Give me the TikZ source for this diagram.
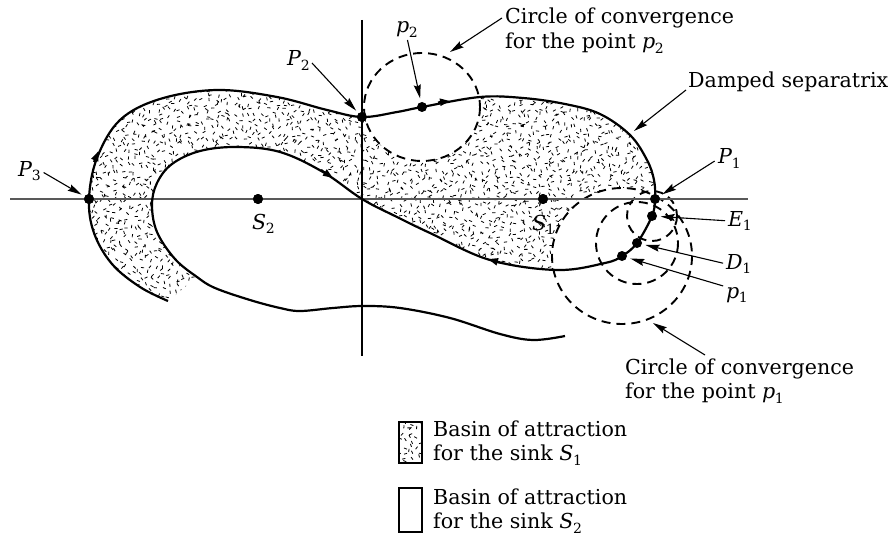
\documentclass[tikz,border=0pt]{standalone}
\usepackage{fontspec}
\setmainfont{DejaVu Serif}
\usetikzlibrary{arrows.meta}
\newcommand\lbl[2]{\textit{#1}\kern-0.02em\raisebox{-0.45ex}{\fontsize{14}{14}\selectfont #2}}
\begin{document}
\begin{tikzpicture}[x=1pt,y=-1pt,
  every node/.style={inner sep=0pt, font=\fontsize{20.6}{24.5}\selectfont},
  dot/.style={circle, fill=black, minimum size=10pt},
  sepline/.style={line width=2.2pt, line join=round},
  conv/.style={line width=1.9pt, dash pattern=on 9pt off 6pt},
  pointer/.style={line width=1.1pt, -{Stealth[length=14pt,width=7pt,inset=2pt]}, shorten >=3.5pt},
  flow/.style={line width=2.2pt, -{Triangle[length=10pt,width=7pt]}},
  stip/.style={line width=0.8pt},
  axisline/.style={line width=1.5pt, black!65},
  legbox/.style={draw, line width=1.4pt, minimum width=23pt},
  ]
\useasboundingbox (0,0) rectangle (893,540);

% points
\node[dot] (P3) at (89,199) {};
\node[dot] (S2) at (258,199) {};
\node[dot] (S1) at (543,199) {};
\node[dot] (P1) at (655,199) {};
\node[dot] (E1) at (652,216) {};
\node[dot] (D1) at (637,243) {};
\node[dot] (p1) at (622,256) {};
\node[dot] (P2) at (362,117) {};
\node[dot] (p2) at (422,107) {};

% stipple (basin of S1)
\begin{scope}
\clip plot[smooth, tension=0.6] coordinates {(168,301) (140,287) (112,264) (94,233) (89,199) (97,158) (120,120) (160,99) (217,90) (277,97) (327,110) (362,117) (397,112) (422,107) (480,97) (523,98) (565,104) (600,114) (630,135) (647,160) (654,180) (655,199) (652,216) (637,243) (622,256) (605,263) (557,270) (490,260) (430,233) (397,217) (362,199) (323,172) (280,152) (237,147) (200,151) (172,164) (157,183) (152,205) (157,232) (175,259) (197,277)} -- cycle;
\pgfmathsetseed{4242}
\path[draw, stip] foreach \gx in {86,92,...,662} {foreach \gy in {86,92,...,306} {({\gx+6*rnd-3},{\gy+6*rnd-3}) -- ++({360*rnd}:3.2)}};
\end{scope}

% circles of convergence
\fill[white] (p2.center) ellipse [x radius=58, y radius=54];
\fill[white] (p1.center) ellipse [x radius=70, y radius=68];
\fill[white] (D1.center) circle [radius=41];
\fill[white] (E1.center) circle [radius=25];
\draw[conv] (p2.center) ellipse [x radius=58, y radius=54];
\draw[conv] (p1.center) ellipse [x radius=70, y radius=68];
\draw[conv] (D1.center) circle [radius=41];
\draw[conv] (E1.center) circle [radius=25];

% axes
\draw[axisline] (10,199) -- (748,199);
\draw[line width=1.2pt] (362,20) -- (362,356);

% separatrix
\draw[sepline] plot[smooth, tension=0.6] coordinates {(168,301) (140,287) (112,264) (94,233) (89,199) (97,158) (120,120) (160,99) (217,90) (277,97) (327,110) (362,117) (397,112) (422,107) (480,97) (523,98) (565,104) (600,114) (630,135) (647,160) (654,180) (655,199) (652,216) (637,243) (622,256) (605,263) (557,270) (490,260) (430,233) (397,217) (362,199) (323,172) (280,152) (237,147) (200,151) (172,164) (157,183) (152,205) (157,232) (175,259) (197,277) (215,288) (250,300) (280,308) (300,311) (333,308) (363,306) (400,308) (450,318) (500,334) (533,340) (565,336)};

% flow arrows
\draw[flow] (94,162) -- (98.5,151);
\draw[flow] (438,102.5) -- (450,101);
\draw[flow] (500,262.5) -- (488,259);
\draw[flow] (321,170) -- (333,178);

% dots on top
\foreach \n in {P3,S2,S1,P1,E1,D1,p1,P2,p2} {\fill (\n.center) circle [radius=5];}

% labels
\node[anchor=base west] (lP3) at (18,176) {\lbl{P}{3}};
\node[anchor=base west] (lS2) at (252,229) {\lbl{S}{2}};
\node[anchor=base west] (lS1) at (532,230) {\lbl{S}{1}};
\node[anchor=base west] (lP2) at (287,66) {\lbl{P}{2}};
\node[anchor=base west] (lp2) at (396,33) {\lbl{p}{2}};
\node[anchor=base west] (lP1) at (718,164) {\lbl{P}{1}};
\node[anchor=base west] (lE1) at (728,226) {\lbl{E}{1}};
\node[anchor=base west] (lD1) at (726,269) {\lbl{D}{1}};
\node[anchor=base west] (lp1) at (726,298) {\lbl{p}{1}};
\node[anchor=base west] (C2) at (505,24) {\begin{tabular}[t]{@{}l@{}}Circle of convergence\\for the point \lbl{p}{2}\end{tabular}};
\node[anchor=base west] (DS) at (688,88) {Damped separatrix};
\node[anchor=base west] (C1) at (625,374) {\begin{tabular}[t]{@{}l@{}}Circle of convergence\\for the point \lbl{p}{1}\end{tabular}};

\coordinate (dsTip) at (634,131);
\coordinate (c2Tip) at (450,52);
\coordinate (c1Tip) at (653,323);

% pointers
\draw[pointer, shorten <=3pt] (lP3.east) -- (P3);
\draw[pointer, shorten <=3pt] (lP2.east) -- (P2);
\draw[pointer, shorten <=2pt] (lp2.south) -- (p2);
\draw[pointer, shorten <=4pt] (lP1.west) -- (P1);
\draw[pointer, shorten <=3pt] (lE1.west) -- (E1);
\draw[pointer, shorten <=3pt] (lD1.west) -- (D1);
\draw[pointer, shorten <=3pt] (lp1.north west) -- (p1);
\draw[pointer, shorten >=0pt] ([shift={(-2,2)}]DS.base west) -- (dsTip);
\draw[pointer, shorten >=0pt] ([shift={(-3,-6)}]C2.base west) -- (c2Tip);
\draw[pointer, shorten >=0pt] ([shift={(80,-19)}]C1.base west) -- (c1Tip);

% legend
\node[legbox, minimum height=41pt] (box1) at (410.5,442.5) {};
\begin{scope}
\clip (399,422) rectangle (422,463);
\path[draw, stip] foreach \gx in {401,407,...,422} {foreach \gy in {424,430,...,462} {({\gx+6*rnd-3},{\gy+6*rnd-3}) -- ++({360*rnd}:3.2)}};
\end{scope}
\node[legbox, minimum height=41pt] at (box1) {};
\node[legbox, minimum height=44pt] (box2) at (410.5,510) {};
\node[anchor=base west] (leg1) at (433,436) {\begin{tabular}[t]{@{}l@{}}Basin of attraction\\for the sink \lbl{S}{1}\end{tabular}};
\node[anchor=base west] (leg2) at (433,504) {\begin{tabular}[t]{@{}l@{}}Basin of attraction\\for the sink \lbl{S}{2}\end{tabular}};
\end{tikzpicture}
\end{document}
